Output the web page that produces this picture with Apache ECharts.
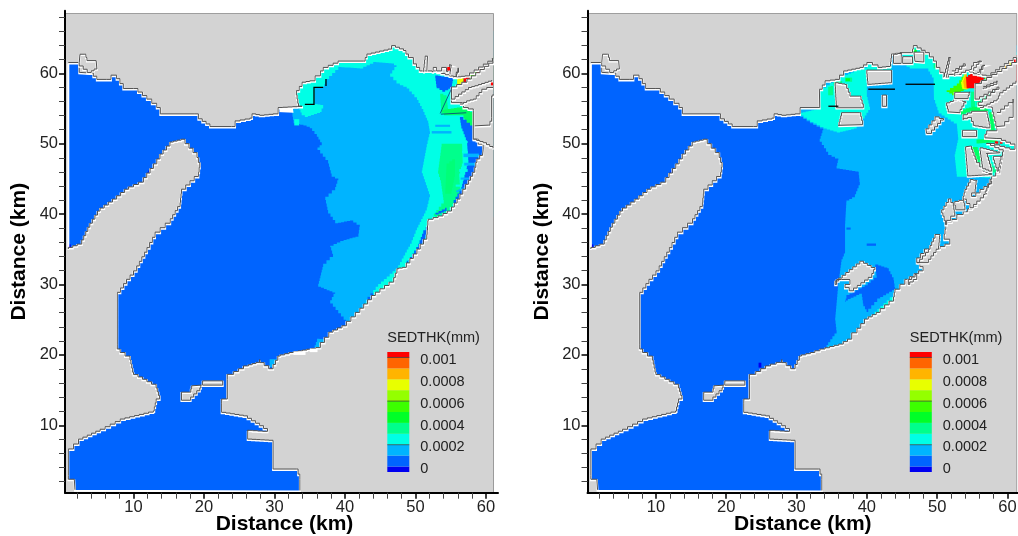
<!DOCTYPE html>
<html><head><meta charset="utf-8">
<script src="https://cdn.jsdelivr.net/npm/echarts@6/dist/echarts.min.js"></script>
<style>html,body{margin:0;background:#fff}#c{width:1018px;height:536px}</style></head>
<body><div id="c"></div>
<script>
// ---------- axis ticks ----------
const majorTicks = [10,20,30,40,50,60];
const minorX = [2,4,6,8,12,14,16,18,22,24,26,28,32,34,36,38,42,44,46,48,52,54,56,58];
const minorY = [2,4,6,8,12,14,16,18,22,24,26,28,32,34,36,38,42,44,46,48,52,54,56,58,62,64,66,68];
// ---------- legend ----------
const legendTitle = 'SEDTHK(mm)';
const legendTicks = [0,0.0002,0.0004,0.0006,0.0008,0.001];
const legendEdges = [-0.00005,0,0.0001,0.0002,0.0003,0.0004,0.0005,0.0006,0.0007,0.0008,0.0009,0.001,0.00105];
const levelColors = ['#0000f0','#0064ff','#00b4ff','#00ffe6','#00ff8c','#00ff28','#3cff00','#94ff00','#e8ff00','#ffb400','#ff6400','#ff0000'];
const legendLines = [0.0002,0.0006,0.001];
const [DEEP,BLUE,SKY,CYAN,SPRING,GREEN,LIME,CHART,YEL,ORG,RORG,RED] = levelColors;
const MID = '#00ff64';
// ---------- coast, km ----------
const northWestCoast = [[0.75,61.4],[2.3,61.4],[2.3,60],[3.8,59.9],[4.8,59],[6.2,59],[6.8,59.6],[7.6,59.1],[8.55,57.7],[10,57.7],[11.9,56.2],[13.3,55],[13.8,54.1],[18.7,54.1],[19.2,53.4],[20.85,52.3],[23.9,52.3],[24.4,53.1],[26.5,53.5],[26.8,54.1],[27.9,53.9],[29.8,54.1],[30.5,55]];
const leftEastCoast = [[33.9,55.2],[33.4,55.6],[33.1,57.4],[33.9,58.6],[35,58.8],[36.5,60.2],[36.9,60.7],[39,61.6],[42.6,61.6],[43.1,62.6],[46.1,63.3],[46.6,63.8],[48.3,63.1],[49,62.1],[49.7,61.2],[50.6,60.2],[52.5,60.2],[55.4,59.3],[57,59.5],[60.9,62],[61,61.3],[57.3,58.6],[55.1,57.6],[55.1,55.7],[56.3,55.7],[56.8,55],[58.2,54.6],[58.2,50.5],[59.6,49.1],[59.5,48.2],[58.7,47.2],[58.4,45.8],[57.5,44.1],[56.3,42],[55.1,40.3],[53.9,39.6],[51.8,38.9],[51.6,36.3],[50.2,34.2],[48.7,32.3],[47.6,32.1],[46.9,30.2],[44.3,28.3],[42.1,25.9],[40.2,24],[38.3,23.1],[36.5,20.9],[32.7,20.2],[30.8,19.7]];
const rightEastCoast = [[33.3,55],[33.25,57.6],[34.05,58.8],[35.5,59],[36.7,60.2],[39,60.7],[40,61.4],[41.6,60.7],[43.3,60.9],[43.5,62.6],[44.7,62.8],[46.4,62.8],[46.6,63.8],[48.3,62.8],[49.5,61.6],[49.9,60.7],[50.9,59.3],[51.6,59.7],[52.8,59.7],[54.05,60.3],[55.2,59.8],[57,59.5],[60.8,62.1],[61.3,62.1],[61.3,61.4],[58.5,59.7],[56.3,58.4],[55.4,57.6],[55.4,56.2],[58.5,57.9],[58.8,57.6],[55.85,55.3],[57.75,55],[58.5,51.7],[57.3,51.7],[56.8,50.7],[58.5,50.6],[61.07,49.55],[61.07,49.07],[58.2,49.9],[57,49.9],[59.4,48.7],[58.9,45.75],[57.75,44.8],[57,42.7],[55.6,41],[53.7,39.8],[52.8,39.1],[51.35,38.4],[51,36.3],[51.8,35.6],[50.4,34.9],[48.75,34.9],[47.1,33],[48,31.8],[46.1,30.6],[44.7,29.2],[44,28.7],[43.8,27.5],[41.9,25.9],[40.2,24.95],[38.6,23],[37.85,22.1],[36.65,21.4],[34.05,20.7],[32.6,20.2],[30.7,19.7]];
const southCoast = [[29.8,17.9],[27.9,19.2],[27.9,18.8],[26.3,18.3],[24.2,17.1],[23.3,16.4],[23.3,13.6],[22.5,12.9],[22.5,11.7],[25.6,11.2],[27.9,9.8],[29,9],[26.2,9.2],[26.2,7.9],[29.8,7.7],[29.8,3.65],[33.1,3.65],[33.6,2.2],[33.6,0.6]];
const westCoast = [[1.7,0.7],[1.6,2.2],[0.75,2.7],[0.75,6.5],[2.2,7.9],[5.25,9.3],[8.1,10.75],[12.8,11.9],[13.2,13.6],[13.7,14.1],[13.2,15.7],[11.9,16.4],[10,17.4],[9.5,19.7],[8.1,20.7],[7.7,21.4],[7.7,28.75],[9,30.6],[10,31.8],[10.45,32.5],[11.9,35.1],[13.05,37.3],[15.2,39.2],[16.6,41.5],[16.8,43.4],[19.2,45.8],[19.4,47.2],[19,48.6],[17.3,50.5],[15.65,50.1],[14.2,48.4],[13.3,47],[11.4,44.4],[9.3,43.4],[7.6,42],[5.25,40.3],[3.8,38],[2.65,35.6],[0.75,34.9]];
// ---------- land shown in both panels ----------
const strait1 = [[16.8,14.6],[18,14.6],[18.25,15.5],[19.7,15.6],[19.4,14.8],[18.1,13.45],[16.8,13.45]];
const strait2 = [[19.8,16.2],[22.65,16.2],[22.65,15.6],[19.8,15.6]];
const nwIslet = [[2.3,61.4],[2.4,62.6],[3.1,62.6],[3.4,61.7],[4.7,61.7],[4.8,60.5],[4,60]];
const deepPatches = [[[7.1,42],[9.26,43.2],[9.26,42.5],[7.8,41.9]],[[9.3,43.9],[10.6,43.8],[10.4,43.6],[9.5,43.6]],[[0.8,35],[1.1,35],[1.1,35.7],[0.8,35.7]],[[11.8,46],[12.4,46.4],[12.2,45.9]]];
// ---------- left panel contours ----------
const leftSky = [[32.4,54.8],[32.7,52.9],[34.1,52.6],[35,52.2],[36,51],[36.7,49.8],[36.1,49.1],[37.6,47.2],[38.1,45.3],[39.05,44.8],[38.6,43.4],[37.2,42],[37.6,40.1],[38.6,38.7],[40.7,39.1],[42.1,38.2],[41.9,36.8],[39.8,36.2],[37.9,35.3],[38.3,33.9],[36.9,32.5],[36.2,29.7],[38.6,28.7],[37.9,27.3],[39.8,25],[40.5,24.5],[46,24],[61,40],[61,66],[33,66]];
const leftSkySpots = [[[35.7,20.9],[36.9,20.9],[37.2,22.2],[36.2,22.3]],[[29.3,18.3],[30.4,18.3],[30.4,19.4],[29.3,19.4]]];
const leftCyan = [[33.85,54.05],[34.3,53.8],[36.45,54.5],[36.9,55.5],[35.7,55.7],[35.7,58],[36.9,58.1],[37.3,59.2],[39.05,60.9],[42.1,60.7],[44,61.6],[46.6,61.4],[47.3,60.9],[46.4,59.5],[47.3,58.55],[48.75,57.85],[50.2,56.2],[51.1,54.5],[51.8,52.9],[52.05,51.4],[51.6,49.5],[50.9,45.8],[52.05,42.4],[51.6,40.5],[50.2,37.7],[49.45,35.8],[48.3,33.7],[47.55,32.25],[44.7,29.7],[43.3,27.8],[42.6,26.6],[42.1,26.1],[44,25],[61,40],[61,66],[36,66],[33.2,60],[33,56]];
const leftSpring = [[[53.7,50],[56.6,50],[56.7,47.2],[56.2,45.3],[56.4,42.4],[54.8,40.5],[53,39.4],[52.6,40.1],[54,42],[53.6,44.8],[53.2,46.2]],[[53.5,57.1],[54.4,56.65],[54.65,54.3],[53.7,54.05]]];
const leftMid = [[[53.7,54.8],[56.3,55.2],[58.2,54.3],[58.2,52.2],[57.5,52.2],[56.8,54.05],[54.4,54.05]]];
const leftLightGreen = [[[54.4,47.2],[55.6,48.1],[55.6,45.3],[55.1,42.9],[54.2,42.9]]];
const leftBlue = [[[52.8,59.7],[55.4,59.3],[55.1,57.8],[54.2,57.4],[53,58.1]],[[56.3,53.8],[58.2,52.2],[60.1,49.1],[60.1,48.2],[58.7,46.2],[57.7,43.9],[55.8,41.5],[55.4,42],[56.5,43.9],[57.5,47.7],[57.3,50.5],[56.5,52.6]],[[51.1,37.7],[51.8,38.65],[51.35,36.3],[50.2,34.15],[48.75,33],[49.2,33.9],[50.4,35.8]],[[43.07,27.1],[44.25,28.1],[44,28.75],[43.2,27.8]],[[52.8,40.2],[54.2,40.9],[54.4,40.4],[52.9,39.8]]];
const leftStreaks = [[[52.8,52.7],[54.9,52.7],[54.9,52.4],[52.8,52.4]],[[52.3,51.8],[55.1,51.8],[55.1,51.45],[52.3,51.45]],[[56.8,48.6],[59,48.6],[59,48.1],[56.8,48.1]],[[55.8,43.4],[57,43.9],[57,43.5],[55.8,43]],[[56.9,47.3],[58.6,47.3],[58.6,46.9],[56.9,46.9]],[[56.4,45.2],[57.6,45.2],[57.6,44.9],[56.4,44.9]]];
const leftCyanStreaks = [[[56.5,50.4],[57.4,50.4],[57.4,50.1],[56.5,50.1]],[[56.6,49],[57.4,49],[57.4,48.7],[56.6,48.7]],[[56.2,46.4],[57.4,46.4],[57.4,46],[56.2,46]],[[55.7,44.2],[56.6,44.2],[56.6,43.9],[55.7,43.9]],[[32.8,53.5],[33.5,53.5],[33.5,52.6],[32.8,52.6]]];
const leftRiverBands = [[55.9,56.8,YEL],[56.8,57.7,RED],[57.7,58.7,LIME],[58.7,59.4,RED],[59.4,60.4,YEL],[60.4,61,ORG]];
const leftRiverLow = 57.5, leftRiverHigh = 62.5;
const leftChannels = [[[51.1,60.1],[51.35,62.3],[51.7,62.3],[51.6,60.1]],[[52.3,60.1],[52.5,60.7],[53,60.2],[53.7,60.7],[54.4,60.1],[54.8,61.1],[55.1,61],[54.9,59.7]],[[55.4,59.4],[56.1,60.6],[55.8,59.3]],[[55.1,56.2],[56.1,56.9],[57.5,57.85],[58.4,58.1],[60.8,58.9]],[[56.3,55.5],[57.25,55.95],[58.2,56.2],[59.4,57.6],[60.1,57.85],[61,57.85]],[[58.4,52.4],[60.3,52.5],[60.8,53.6],[60.8,56.65],[61,56.9]],[[58.2,50.5],[59.6,50],[61,49.2]]];
const leftBlack = [[[34.3,55.6],[35.6,55.6],[35.6,58],[36.9,58]],[[37.3,59.2],[37.3,58.2]]];
const leftThin = [[[53.5,54.3],[55.1,57.8]],[[53.6,54.2],[57.2,54.4]]];
const leftWhite = [[[30.4,54.5],[30.7,55],[32.6,55],[32.7,54.4]],[[32.7,20],[34.4,20],[34.4,20.5],[32.7,20.5]],[[35,20.4],[36.1,20.4],[36.1,20.9],[35,20.9]]];
const leftRed = [[[54.5,60.4],[54.9,60.4],[54.9,60.9],[54.5,60.9]],[[60.7,58.3],[61,58.3],[61,58.7],[60.7,58.7]]];
// ---------- right panel contours ----------
const rightSky = [[30.5,53.8],[31.9,52.9],[33.8,51.9],[33.3,50.3],[34.5,48.4],[35.95,47.65],[35.7,46.5],[38.8,46],[39,44.1],[38.3,42.4],[37.1,41.7],[36.9,38.2],[36.9,34.4],[36.4,33.2],[35.95,29.9],[35.5,24.9],[35.7,23.05],[34.5,21.4],[34.05,20.7],[44,20],[61,35],[61.3,64],[30,64]];
const rightBluePatch = [[41.2,32.85],[42.9,32.3],[43.8,30.6],[44,29.2],[41.9,28],[40.2,26.1],[39.5,27.3],[39.3,28.7],[36.9,27.55],[37.1,28.5],[39.7,29.9],[41.4,31.3]];
const rightBlueSpots = [[[39.98,35.83],[41.3,35.83],[41.3,35.5],[39.98,35.5]],[[37.1,38.1],[37.7,38.1],[37.7,37.8],[37.1,37.8]],[[36.66,55],[39.5,55],[39.7,54.5],[36.66,54.5]],[[35.9,52.6],[36.6,52.6],[36.6,51.9],[35.9,51.9]]];
const rightCyan = [[[30.5,54.4],[33.3,55],[33.3,57.6],[35.2,59],[39,60.7],[40,60.9],[40,56.65],[40.45,54.8],[39.7,53.6],[38.55,52.15],[36.2,51.6],[34.3,52.15],[32.4,53.1],[31,54]],[[45.2,61.2],[46.1,60.7],[48.5,60.7],[49.5,59],[49.55,56.2],[50.2,54.3],[52.8,52.6],[53,50.5],[52.5,48.1],[52.8,45.3],[54.2,45.3],[61,45],[61.3,63],[45,64]],[[40.2,25.3],[43.7,28.6],[43.8,27.5],[41.9,25.9]],[[40,61.3],[43.5,61.3],[43.5,60.2],[40,60.2]]];
const rightSpring = [[[34.5,58.1],[35.2,58.3],[35.2,56.9],[34.5,56.9]],[[35.5,58.8],[36.5,59],[36.5,58.5],[35.7,58.3]],[[36.9,59.4],[37.9,59.4],[37.9,58.8],[36.9,58.8]],[[49.5,61.4],[50.2,61.4],[50.2,60.7],[49.5,60.7]],[[54.8,57.4],[55.4,57.4],[55.4,55.2],[54.8,55.2]],[[56,48.1],[56.9,48.1],[58.5,45.9],[57.9,45.9]],[[55.7,47.7],[56.4,47.7],[57,46.2],[56.3,46.2]]];
const rightMouth = [[[51.35,57.6],[52.8,58.55],[53.8,60],[54.2,57.7],[52.5,56.9]]];
const rightMid = [[[53.3,54.75],[54.9,55.3],[57,55.15],[57.3,54.5],[54.7,54.5],[53.5,54.05]],[[57.4,54.5],[58.1,54.5],[58.2,51.7],[57.5,51.7]],[[55.6,55.95],[58.5,57.85],[58.65,57.5],[55.85,55.5]],[[55.6,50.6],[58.2,50.7],[58.5,50.25],[55.6,50]],[[54.9,49.55],[55.6,49.55],[56.3,47.65],[55.85,47.2]]];
const rightGreenSpots = [[[46.6,63.4],[47.1,63.4],[47.1,62.9],[46.6,62.9]],[[48.2,62.9],[48.5,62.9],[48.5,62.6],[48.2,62.6]],[[35.3,58.7],[36,58.7],[36,58.3],[35.3,58.3]],[[37,59.3],[37.6,59.3],[37.6,58.9],[37,58.9]]];
const rightYellow = [[53.4,58.8],[54,60.3],[54.3,57.7],[53.6,57.8]];
const rightOrange = [[53.7,59],[54.1,60.2],[54.5,57.8],[53.9,57.9]];
const rightRed = [[54.1,59.5],[54.7,60],[55.4,59.7],[56.9,59.25],[56,58.4],[55.4,57.9],[54.2,57.9]];
const rightRiverBands = [[56.8,57.6,LIME],[57.6,58.5,CHART],[58.5,59.4,YEL],[59.4,60.4,ORG],[60.4,60.9,YEL],[60.9,61.3,RED]];
const rightRiverLow = 58.6, rightRiverHigh = 62.6;
const rightRedSpots = [[[58.2,50.35],[58.7,50.35],[58.7,50],[58.2,50]],[[58.9,50.35],[59.3,50.35],[59.3,50],[58.9,50]]];
const rightDeep = [[[24.6,18.2],[25,18.2],[25,18.9],[24.6,18.9]]];
const rightLand = [
 [[35.5,58.55],[36.9,58.3],[37.6,56.65],[39,56.65],[39.5,55],[35.7,55]],
 [[36.4,54.3],[39,54.3],[39.4,52.6],[35.95,52.5]],
 [[40,60.35],[43.5,60.35],[43.5,58.55],[40.2,58.3]],
 [[42.2,56.8],[42.8,56.8],[42.8,55.2],[42.2,55.2]],
 [[43.8,62.6],[44.9,62.8],[44.9,61.3],[43.8,61.3]],
 [[45.1,62.25],[46.5,62.25],[46.5,61.3],[45.1,61.3]],
 [[46.7,62.9],[48.1,62.9],[48.1,61.5],[46.85,61.6]],
 [[51.35,55.7],[52.8,56.3],[54.05,55.7],[53.25,54.3],[51.7,54.4]],
 [[48.4,52],[49.7,53.7],[50.9,53.25],[49.2,51.35],[48.5,51.35]],
 [[52.5,57.2],[54.7,57.2],[54.4,56.3],[52.5,56.3]],
 [[53.7,54],[54.9,54.5],[57,54.5],[57.5,52.15],[55.4,52.5],[54.9,53.6],[53.7,53.3]],
 [[53.6,51.8],[55.6,51.8],[55.6,50.9],[53.6,50.9]],
 [[54.05,49.45],[54.7,49.55],[55.6,47.2],[56.5,46],[57.75,45.5],[54.4,45.3]],
 [[56.1,49.3],[58.9,48.6],[57,48.5],[57.75,46],[56.5,46.5]],
 [[58,48.1],[59.2,48.1],[58.7,46]],
 [[53.95,43.4],[54.7,44.8],[55.6,44.6],[55.4,42.9],[54.9,42.4],[56.1,43.4],[57.75,44.6],[56.6,42.2],[55.15,40.8],[54.2,42],[53.7,42.4]],
 [[52.5,41.7],[53.7,42],[53.95,40.5],[52.8,40.5]],
 [[50.65,40.5],[51.6,42.05],[52.3,41],[52.5,39.6],[51.35,38.4],[51,39.6]],
 [[48.75,34.9],[49.7,37],[50.4,36.8],[50.2,34.9],[48.75,33],[47.1,33]],
 [[35.5,30.4],[39,33.2],[41.15,32],[40.7,30.9],[38.1,29],[36.9,29.9],[37.6,30.6],[36.4,30.6],[35.7,29.9]],
 [[45.9,30.6],[46.85,31.3],[47.1,30.6],[46.1,29.9]]
];
const rightChannels = [[[50.9,59.4],[51.6,62.1],[51.9,62.1],[51.35,59.25]],[[52.1,60.2],[53.7,61.2],[54,60.9],[52.5,59.5]],[[54.6,60.4],[55.15,61.4],[56.3,61.6],[55.2,60.2]],[[55.7,60],[56.3,60.85],[56.8,61],[56.2,59.8]],[[56.55,58],[58.5,58.8],[58.5,58.3],[56.55,57.6]],[[56.1,55],[58.5,56.2],[58.9,57.1],[61.2,58.8]],[[58.5,54.3],[60.1,55.7],[60.8,56.2],[60.8,53.6],[59.6,52.4],[58.5,52.3]]];
const rightBlack = [[[34.53,55.33],[35.95,55.33]],[[40.2,57.75],[44,57.75]],[[45.5,58.45],[49.7,58.45]]];

// ---------- panel frames ----------
const LAND='#d3d3d3', FONT='"Liberation Sans",Arial,sans-serif';
const LIGHTGREEN='#00ff78';
const LEGEND_LABEL_SHIFT=0.000025;
const fills = (polys,color,step)=>polys.map(pts=>({kind:'fill',pts,color,step:step||3}));
const bands = (list,lo,hi)=>list.map(b=>({kind:'fill',color:b[2],step:0,pts:[[b[0],lo],[b[1],lo],[b[1],hi],[b[0],hi]]}));
function buildLayers(p){
  const coast=[...northWestCoast,...p.east,...southCoast,...westCoast];
  const coastA=[...northWestCoast,...p.east,...southCoast];
  let L=[{kind:'frame',bounds:p.bounds},{kind:'fill',pts:coast,color:BLUE,step:4.5}];
  L=L.concat(p.contours);
  L.push({kind:'mask',pts:coast,bounds:p.bounds});
  L.push({kind:'stroke',pts:coast,closed:true,color:'#fff',w:2,step:4.5});
  L.push({kind:'stroke',pts:coastA,color:'#505050',w:1,step:4.5,dy:-1});
  L.push({kind:'stroke',pts:westCoast,color:'#505050',w:1,step:4.5,dy:-1});
  [strait1,strait2,nwIslet].concat(p.land).forEach(pts=>L.push({kind:'island',pts}));
  p.channels.forEach(pts=>{L.push({kind:'stroke',pts,color:'#fff',w:2,step:3.5});L.push({kind:'stroke',pts,color:'#505050',w:1,step:3.5,dy:-1});});
  L=L.concat(p.top);
  p.black.forEach(pts=>L.push({kind:'stroke',pts,color:'#000',w:1.3,step:0}));
  (p.thin||[]).forEach(pts=>L.push({kind:'stroke',pts,color:'#0a3a80',w:0.8,step:0}));
  return L;
}
const leftLayers = buildLayers({
  east:leftEastCoast,bounds:[0.28,61.03,0.45,68.5],land:[],channels:leftChannels,black:leftBlack,thin:leftThin,
  contours:[].concat(
    fills([leftSky],SKY),fills(leftSkySpots,SKY),fills(deepPatches,DEEP,2),fills([leftCyan],CYAN),
    fills(leftSpring,SPRING),fills(leftMid,MID),fills(leftLightGreen,LIGHTGREEN),fills(leftBlue,BLUE),fills(leftStreaks,SKY,2),fills(leftCyanStreaks,CYAN,2),
    bands(leftRiverBands,leftRiverLow,leftRiverHigh)),
  top:[].concat(fills(leftWhite,'#fff',0),fills(leftRed,RED,0))
});
const rightLayers = buildLayers({
  east:rightEastCoast,bounds:[0.27,61.3,0.45,68.5],land:rightLand,channels:rightChannels,black:rightBlack,
  contours:[].concat(
    fills([rightSky],SKY),fills(deepPatches,DEEP,2),fills(rightDeep,DEEP,0),fills([rightBluePatch],BLUE),fills(rightBlueSpots,BLUE,2),
    fills(rightCyan,CYAN),fills(rightSpring,SPRING),fills(rightMouth,LIME),fills(rightMid,MID),fills(rightGreenSpots,GREEN,0),
    fills([rightYellow],YEL,2),fills([rightOrange],ORG,2),fills([rightRed],RED,2),
    bands(rightRiverBands,rightRiverLow,rightRiverHigh),fills(rightRedSpots,RED,0)),
  top:[]
});
function stair(px,step,closed){
  if(!step) return px;
  const src=closed?px.concat([px[0]]):px, out=[src[0]];
  for(let i=1;i<src.length;i++){
    const a=src[i-1],b=src[i],dx=b[0]-a[0],dy=b[1]-a[1];
    if(Math.abs(dx)<1.2||Math.abs(dy)<1.2){out.push(b);continue;}
    const n=Math.max(1,Math.round(Math.max(Math.abs(dx),Math.abs(dy))/step));
    for(let k=1;k<=n;k++){
      const x=a[0]+dx*k/n, yPrev=a[1]+dy*(k-1)/n, y=a[1]+dy*k/n;
      out.push([x,yPrev]);out.push([x,y]);
    }
  }
  return out;
}
function area(p){let s=0;for(let i=0;i<p.length;i++){const q=p[(i+1)%p.length];s+=p[i][0]*q[1]-q[0]*p[i][1];}return s;}
function mapSeries(layers,xi,yi){
  return {type:'custom',xAxisIndex:xi,yAxisIndex:yi,silent:true,clip:false,z:2,
    data:layers.map((l,i)=>[i,0]),encode:{x:[],y:[]},
    renderItem(params,api){
      const l=layers[params.dataIndex], z2=params.dataIndex, c=p=>api.coord(p);
      if(l.kind==='frame'){
        const b=l.bounds,p0=c([b[0],b[3]]),p1=c([b[1],b[2]]);
        return {type:'rect',z2,shape:{x:p0[0],y:p0[1],width:p1[0]-p0[0],height:p1[1]-p0[1]},style:{fill:LAND,stroke:'#666',lineWidth:1}};
      }
      if(l.kind==='fill'){
        return {type:'polygon',z2,shape:{points:stair(l.pts.map(c),l.step,true)},style:{fill:l.color,stroke:null}};
      }
      if(l.kind==='mask'){
        const b=l.bounds;
        let rect=[c([b[0],b[3]]),c([b[1],b[3]]),c([b[1],b[2]]),c([b[0],b[2]])];
        let hole=stair(l.pts.map(c),4.5,true);
        if(area(rect)*area(hole)>0) hole=hole.slice().reverse();
        return {type:'polygon',z2,shape:{points:rect.concat([rect[0]],hole,[hole[0],rect[0]])},style:{fill:LAND,stroke:null}};
      }
      if(l.kind==='stroke'){
        return {type:'polyline',z2,y:l.dy||0,shape:{points:stair(l.pts.map(c),l.step,l.closed)},style:{fill:null,stroke:l.color,lineWidth:l.w}};
      }
      if(l.kind==='island'){
        const pts=stair(l.pts.map(c),3.5,true);
        return {type:'group',z2,children:[
          {type:'polygon',z2,shape:{points:pts},style:{fill:LAND,stroke:'#fff',lineWidth:2}},
          {type:'polygon',z2:z2,y:-0.8,shape:{points:pts},style:{fill:null,stroke:'#505050',lineWidth:1}}
        ]};
      }
    }};
}
function legendSeries(xi,yi){
  const items=levelColors.map((col,i)=>({lo:legendEdges[i],hi:legendEdges[i+1],col}));
  legendLines.forEach(v=>items.push({lo:v,hi:v,col:'#333',line:true}));
  return {type:'custom',xAxisIndex:xi,yAxisIndex:yi,silent:true,clip:false,z:3,
    data:items.map((it,i)=>[i,0]),encode:{x:[],y:[]},
    renderItem(params,api){
      const it=items[params.dataIndex],a=api.coord([0,it.hi]),b=api.coord([1,it.lo]);
      if(it.line) return {type:'line',z2:50,shape:{x1:a[0],y1:a[1],x2:b[0],y2:a[1]},style:{stroke:it.col,lineWidth:1,opacity:.7}};
      return {type:'rect',z2:params.dataIndex,shape:{x:a[0],y:a[1],width:b[0]-a[0],height:b[1]-a[1]},style:{fill:it.col,stroke:null}};
    }};
}
const panels=[
 {left:65,width:433,xmin:0.28,xmax:61.7,nameShift:6,legendLeft:387.3,yNameGap:35},
 {left:587.5,width:430.5,xmin:0.27,xmax:61.5,nameShift:0,legendLeft:909.8,yNameGap:35}
];
const grids=[],xAxes=[],yAxes=[],series=[],titles=[];
const tickLabel={fontFamily:FONT,fontSize:16.5,color:'#222'};
panels.forEach((p,i)=>{
  const g=grids.length;
  grids.push({left:p.left,width:p.width,top:10.7,height:482,containLabel:false,outerBoundsMode:'none'});
  const xi=xAxes.length, yi=yAxes.length;
  xAxes.push({type:'value',gridIndex:g,min:p.xmin,max:p.xmax,z:5,position:'bottom',splitLine:{show:false},
    axisLine:{onZero:false,lineStyle:{color:'#000',width:2}},
    axisTick:{customValues:majorTicks,length:6,lineStyle:{color:'#000',width:1.5}},
    axisLabel:Object.assign({customValues:majorTicks,margin:6},tickLabel),
    name:'Distance (km)',nameLocation:'middle',nameGap:21.5,nameMoveOverlap:false,
    nameTextStyle:{fontFamily:FONT,fontSize:21,fontWeight:'bold',color:'#000',padding:[0,0,0,p.nameShift]}});
  xAxes.push({type:'value',gridIndex:g,min:p.xmin,max:p.xmax,z:5,position:'bottom',splitLine:{show:false},
    axisLine:{show:false,onZero:false},axisLabel:{show:false},
    axisTick:{customValues:minorX,length:6,lineStyle:{color:'#444',width:1}}});
  yAxes.push({type:'value',gridIndex:g,min:0.43,max:68.9,z:5,position:'left',splitLine:{show:false},
    axisLine:{onZero:false,lineStyle:{color:'#000',width:2}},
    axisTick:{customValues:majorTicks,length:6,lineStyle:{color:'#000',width:1.5}},
    axisLabel:Object.assign({customValues:majorTicks,margin:7},tickLabel),
    name:'Distance (km)',nameLocation:'middle',nameGap:p.yNameGap,
    nameTextStyle:{fontFamily:FONT,fontSize:21,fontWeight:'bold',color:'#000'}});
  yAxes.push({type:'value',gridIndex:g,min:0.43,max:68.9,z:5,position:'left',splitLine:{show:false},
    axisLine:{show:false,onZero:false},axisLabel:{show:false},
    axisTick:{customValues:minorY,length:6,lineStyle:{color:'#444',width:1}}});
  series.push(mapSeries(i===0?leftLayers:rightLayers,xi,yi));
  // legend
  const lg=grids.length;
  grids.push({left:p.legendLeft,width:22,top:352,height:120,containLabel:false,outerBoundsMode:'none',z:6});
  const lx=xAxes.length, ly=yAxes.length;
  const eMin=legendEdges[0], eMax=legendEdges[legendEdges.length-1];
  xAxes.push({type:'value',gridIndex:lg,min:0,max:1,show:false});
  yAxes.push({type:'value',gridIndex:lg,min:eMin,max:eMax,position:'right',show:false});
  yAxes.push({type:'value',gridIndex:lg,min:eMin+LEGEND_LABEL_SHIFT,max:eMax+LEGEND_LABEL_SHIFT,position:'right',z:6,
    splitLine:{show:false},axisLine:{show:false},axisTick:{show:false},
    axisLabel:{customValues:legendTicks,margin:11,fontFamily:FONT,fontSize:14.5,color:'#222',formatter:v=>String(+(+v).toFixed(4))}});
  series.push(legendSeries(lx,ly));
  titles.push({text:legendTitle,left:p.legendLeft,top:330,padding:0,z:6,textStyle:{fontFamily:FONT,fontSize:14.5,fontWeight:'normal',color:'#222'}});
});
const chart=echarts.init(document.getElementById('c'),null,{renderer:'canvas'});
chart.setOption({animation:false,backgroundColor:'#fff',title:titles,grid:grids,xAxis:xAxes,yAxis:yAxes,series:series});
</script></body></html>
